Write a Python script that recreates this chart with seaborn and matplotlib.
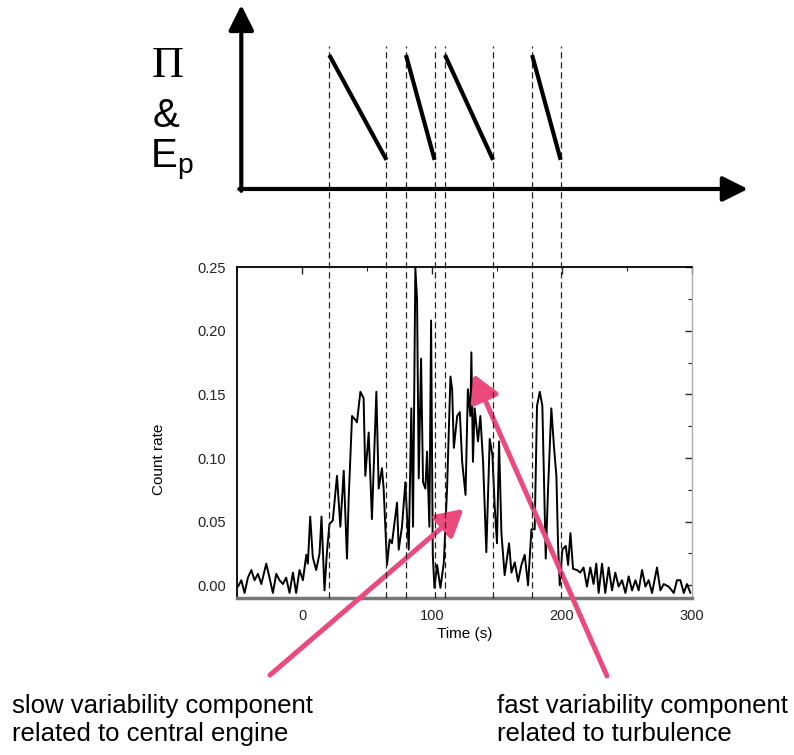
import numpy as np
import pandas as pd
import matplotlib
matplotlib.use('Agg')
import matplotlib.pyplot as plt
from matplotlib.ticker import MultipleLocator, FormatStrFormatter
import seaborn as sns

# light curve (time in s, count rate)
time_s = [-49.2, -46.7, -44.2, -41.6, -39.0, -36.5, -33.9, -31.3, -27.5, -25.0,
          -22.4, -19.8, -17.3, -14.7, -12.2, -9.6, -7.0, -4.5, -1.9, 0.7,
          3.3, 4.5, 6.3, 8.3, 10.9, 13.5, 15.0, 17.3, 19.1, 21.1,
          23.7, 26.3, 26.9, 29.5, 32.1, 34.6, 35.9, 38.5, 41.0, 42.3,
          44.9, 47.4, 48.7, 51.3, 53.8, 57.2, 59.0, 61.5, 62.8, 65.4,
          67.4, 69.2, 73.1, 74.4, 76.9, 79.5, 82.1, 84.1, 85.4, 87.2,
          88.5, 89.8, 91.6, 93.1, 94.9, 96.2, 98.0, 99.3, 100.6, 101.9,
          103.9, 106.5, 109.1, 111.6, 114.2, 115.5, 116.8, 119.4, 121.4, 123.2,
          125.8, 127.6, 129.5, 130.3, 131.5, 132.8, 135.4, 137.2, 139.3, 141.8,
          144.4, 146.5, 148.2, 150.0, 151.6, 153.4, 155.9, 159.3, 161.1, 163.7,
          166.2, 168.8, 171.3, 173.9, 176.5, 179.0, 180.8, 182.9, 184.9, 187.5,
          189.3, 191.8, 193.9, 195.7, 197.0, 198.3, 200.3, 202.9, 204.7, 206.5,
          208.5, 211.5, 214.1, 216.6, 219.2, 221.8, 224.3, 226.4, 228.2, 230.8,
          233.3, 235.9, 238.5, 241.0, 243.6, 246.2, 248.8, 251.3, 253.9, 256.5,
          259.0, 261.6, 264.2, 266.7, 269.3, 273.1, 275.7, 278.3, 282.1, 286.0,
          288.5, 291.1, 293.7, 296.2, 298.8]
count_rate = [-0.001, 0.004, -0.006, 0.006, 0.012, 0.004, 0.009, 0.001, 0.017, 0.006,
              -0.006, 0.009, 0.004, 0.001, 0.006, -0.006, 0.010, -0.006, 0.012, 0.004,
              0.024, 0.017, 0.054, 0.022, 0.012, 0.025, 0.054, -0.004, 0.025, 0.048,
              0.051, 0.080, 0.086, 0.046, 0.090, 0.021, 0.068, 0.133, 0.130, 0.128,
              0.152, 0.147, 0.086, 0.120, 0.052, 0.152, 0.076, 0.092, 0.076, 0.016,
              0.036, 0.033, 0.065, 0.028, 0.046, 0.081, 0.028, 0.139, 0.046, 0.249,
              0.225, 0.084, 0.178, 0.081, 0.076, 0.105, 0.046, 0.208, 0.024, -0.002,
              0.016, -0.002, 0.018, 0.076, 0.164, 0.154, 0.108, 0.133, 0.136, 0.097,
              0.071, 0.154, 0.133, 0.183, 0.097, 0.139, 0.113, 0.133, 0.097, 0.026,
              0.115, 0.102, 0.063, 0.033, 0.113, 0.041, 0.008, 0.033, 0.010, 0.018,
              0.003, 0.016, 0.024, 0.000, 0.044, 0.044, 0.141, 0.152, 0.141, 0.021,
              0.076, 0.139, 0.108, 0.086, 0.031, 0.000, 0.028, 0.031, 0.016, 0.041,
              0.013, 0.012, 0.010, 0.014, -0.001, 0.014, 0.001, 0.017, -0.006, 0.017,
              -0.006, 0.014, -0.004, 0.010, -0.001, 0.004, -0.006, 0.007, -0.004, 0.004,
              -0.004, 0.012, -0.001, 0.004, -0.006, 0.014, -0.004, 0.001, -0.001, -0.006,
              0.004, 0.004, -0.006, 0.001, -0.006]

# pulse boundaries (s) and schematic Pi/Ep levels
pulse_start = [21, 80, 110, 177]
pulse_end = [65, 102, 147, 199]
level_high = 0.728
level_low = 0.158

x_ticks = [0, 100, 200, 300]
pink = '#ec4a7d'

sns.set_style('white')
plt.rcParams['font.family'] = ['Liberation Sans', 'DejaVu Sans']
plt.rcParams['text.color'] = 'black'
plt.rcParams['axes.labelcolor'] = 'black'

fig = plt.figure(figsize=(7.94, 7.55), dpi=100)
ax = fig.add_axes([0.2985, 0.2079, 0.5730, 0.4384])
ax_top = fig.add_axes([0.2985, 0.7497, 0.5730, 0.2437])

df = pd.DataFrame({'time': time_s, 'count': count_rate})
sns.lineplot(data=df, x='time', y='count', ax=ax, color='black', lw=1.4,
             estimator=None, sort=False)

ax.set_xlim(-50, 300)
ax.set_ylim(-0.01, 0.25)
ax.set_xticks(x_ticks)
ax.xaxis.set_minor_locator(MultipleLocator(50))
ax.yaxis.set_major_locator(MultipleLocator(0.05))
ax.yaxis.set_minor_locator(MultipleLocator(0.025))
ax.yaxis.set_major_formatter(FormatStrFormatter('%.2f'))
ax.tick_params(which='both', direction='in', top=True, right=True,
               labelsize=10.5, labelcolor='#222222', pad=8)
ax.tick_params(which='major', length=5, width=1)
ax.tick_params(which='minor', length=3, width=0.8)
ax.set_xlabel('Time (s)', fontsize=11, labelpad=3)
ax.set_ylabel('Count rate', fontsize=11)
ax.yaxis.set_label_coords(-0.155, 0.42)
for side in ['top', 'left']:
    ax.spines[side].set_color('black')
    ax.spines[side].set_linewidth(1.3)
ax.spines['bottom'].set_color('#777777')
ax.spines['bottom'].set_linewidth(2.5)
ax.spines['right'].set_color('#aaaaaa')
ax.spines['right'].set_linewidth(1.0)

# dashed pulse boundaries spanning both panels
bounds = sorted(pulse_start + pulse_end)
ax.vlines(bounds, 0, 1.668, transform=ax.get_xaxis_transform(), colors='#222222',
          linestyles=(0, (5, 3)), lw=0.9, clip_on=False, zorder=5)

# top schematic panel
ax_top.set_xlim(-50, 300)
ax_top.set_ylim(0, 1)
ax_top.axis('off')
arrow_kw = dict(arrowstyle='-|>,head_length=0.7,head_width=0.35', color='black',
                lw=3, shrinkA=0, shrinkB=0, mutation_scale=22)
ax_top.annotate('', xy=(-46.7, 1.0), xytext=(-46.7, -0.01), arrowprops=arrow_kw,
                annotation_clip=False)
ax_top.annotate('', xy=(343, 0.0), xytext=(-48.2, 0.0), arrowprops=arrow_kw,
                annotation_clip=False)
for s, e in zip(pulse_start, pulse_end):
    ax_top.plot([s, e], [level_high, level_low], color='black', lw=3,
                solid_capstyle='butt')

fig.text(168 / 794, 1 - 66 / 755, 'Π', fontsize=32, ha='center', va='center',
         family=['Liberation Serif', 'DejaVu Serif'])
fig.text(166 / 794, 1 - 116 / 755, '&', fontsize=29, ha='center', va='center')
fig.text(150 / 794, 1 - 160 / 755, r'E$_\mathregular{p}$', fontsize=29,
         ha='left', va='center')

# pink annotation arrows
pink_kw = dict(arrowstyle='-|>,head_length=0.8,head_width=0.45', color=pink,
               lw=3.6, shrinkA=0, shrinkB=0, mutation_scale=20)
ax.annotate('', xy=(124.3, 0.060), xycoords='data', xytext=(270 / 794, 1 - 675 / 755),
            textcoords='figure fraction', arrowprops=pink_kw, annotation_clip=False)
ax.annotate('', xy=(132.0, 0.166), xycoords='data', xytext=(607 / 794, 1 - 676 / 755),
            textcoords='figure fraction', arrowprops=pink_kw, annotation_clip=False)

fig.text(12 / 794, 1 - 694 / 755, 'slow variability component\nrelated to central engine',
         fontsize=18.5, ha='left', va='top', linespacing=1.2)
fig.text(497 / 794, 1 - 694 / 755, 'fast variability component\nrelated to turbulence',
         fontsize=18.5, ha='left', va='top', linespacing=1.2)

fig.savefig('out.png', dpi=100)
